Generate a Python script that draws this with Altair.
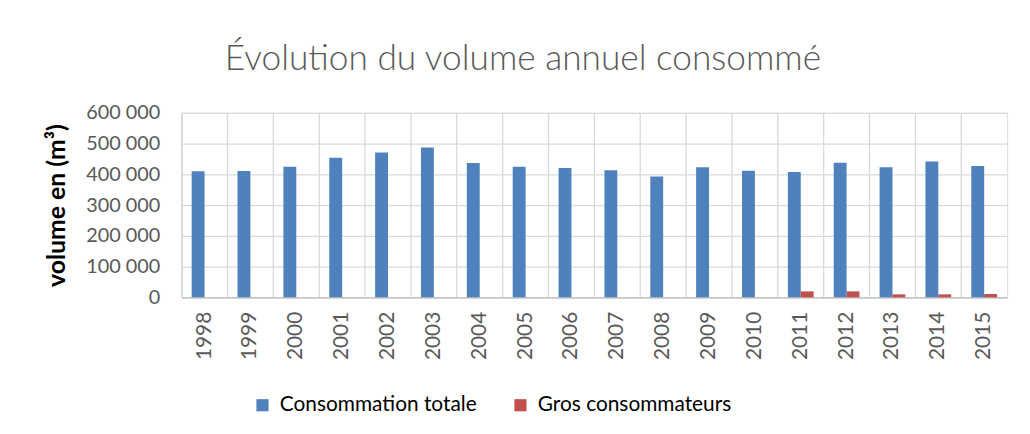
import altair as alt
import pandas as pd

years = ["1998", "1999", "2000", "2001", "2002", "2003", "2004", "2005", "2006",
         "2007", "2008", "2009", "2010", "2011", "2012", "2013", "2014", "2015"]
totale = [409700, 410800, 424700, 453800, 471000, 487100, 436600, 424700, 420400,
          412900, 392500, 422600, 411800, 407500, 437600, 422600, 441900, 426900]
gros = [0, 0, 0, 0, 0, 0, 0, 0, 0,
        0, 0, 0, 0, 19400, 19400, 9700, 9700, 10800]
series_names = ["Consommation totale", "Gros consommateurs"]
colors = ["#4F81BD", "#C0504D"]

rows = []
for y, t, g in zip(years, totale, gros):
    rows.append({"year": y, "series": series_names[0], "value": t})
    rows.append({"year": y, "series": series_names[1], "value": g})
df = pd.DataFrame(rows)
df_years = pd.DataFrame({"year": years})

FONT = "Lato"
GRID = "#d9d9d9"

xscale = alt.Scale(domain=years, paddingInner=0, paddingOuter=0)
xaxis = alt.Axis(title=None, labelAngle=-90, labelFontSize=21, labelFont=FONT,
                 labelColor="#595959", ticks=False, domain=True,
                 domainColor="#bfbfbf", domainWidth=1.3, labelPadding=14,
                 grid=False, labelAlign="right", labelBaseline="middle")

grid_rules = alt.Chart(df_years).mark_rule(color=GRID, strokeWidth=1.3).encode(
    x=alt.X("year:N", scale=xscale, bandPosition=0, axis=xaxis)
)

bars = alt.Chart(df).mark_bar().encode(
    x=alt.X("year:N", scale=xscale, sort=years, axis=xaxis),
    xOffset=alt.XOffset("series:N", sort=series_names,
                        scale=alt.Scale(paddingInner=0, paddingOuter=0.78)),
    y=alt.Y("value:Q", scale=alt.Scale(domain=[0, 600000], nice=False),
            axis=alt.Axis(title="volume en (m³)", titleFont=FONT, titleFontSize=25,
                          titleFontWeight="bold", titleColor="#000000",
                          titleX=-113, titleY=93, titleAngle=270,
                          titleBaseline="bottom", titleAlign="center",
                          values=[0, 100000, 200000, 300000, 400000, 500000, 600000],
                          labelExpr="replace(format(datum.value, ','), regexp(',', 'g'), ' ')",
                          labelFont=FONT, labelFontSize=20, labelColor="#595959",
                          labelPadding=22, ticks=False, domain=True, domainColor=GRID,
                          domainWidth=1.3, gridColor=GRID, gridWidth=1.3)),
    color=alt.Color("series:N", sort=series_names,
                    scale=alt.Scale(domain=series_names, range=colors),
                    legend=alt.Legend(title=None, orient="none", legendX=71, legendY=284,
                                      direction="horizontal", symbolType="square",
                                      symbolSize=150, symbolStrokeWidth=0,
                                      labelFont=FONT, labelFontSize=21, labelColor="#000000",
                                      labelLimit=400, columnPadding=33, labelOffset=7)),
)

chart = alt.layer(grid_rules, bars).properties(
    width=832,
    height=186,
    title=alt.TitleParams("Évolution du volume annuel consommé", font=FONT, fontSize=35.5,
                          fontWeight=300, color="#595959", anchor="middle", dx=-72,
                          offset=26),
    autosize=alt.AutoSizeParams(type="none"),
    padding={"left": 175, "top": 104, "right": 15, "bottom": 120},
).configure_view(stroke=GRID, strokeWidth=1.3).configure(background="white")

chart.save("out.html", embed_options={"renderer": "svg", "actions": False})
